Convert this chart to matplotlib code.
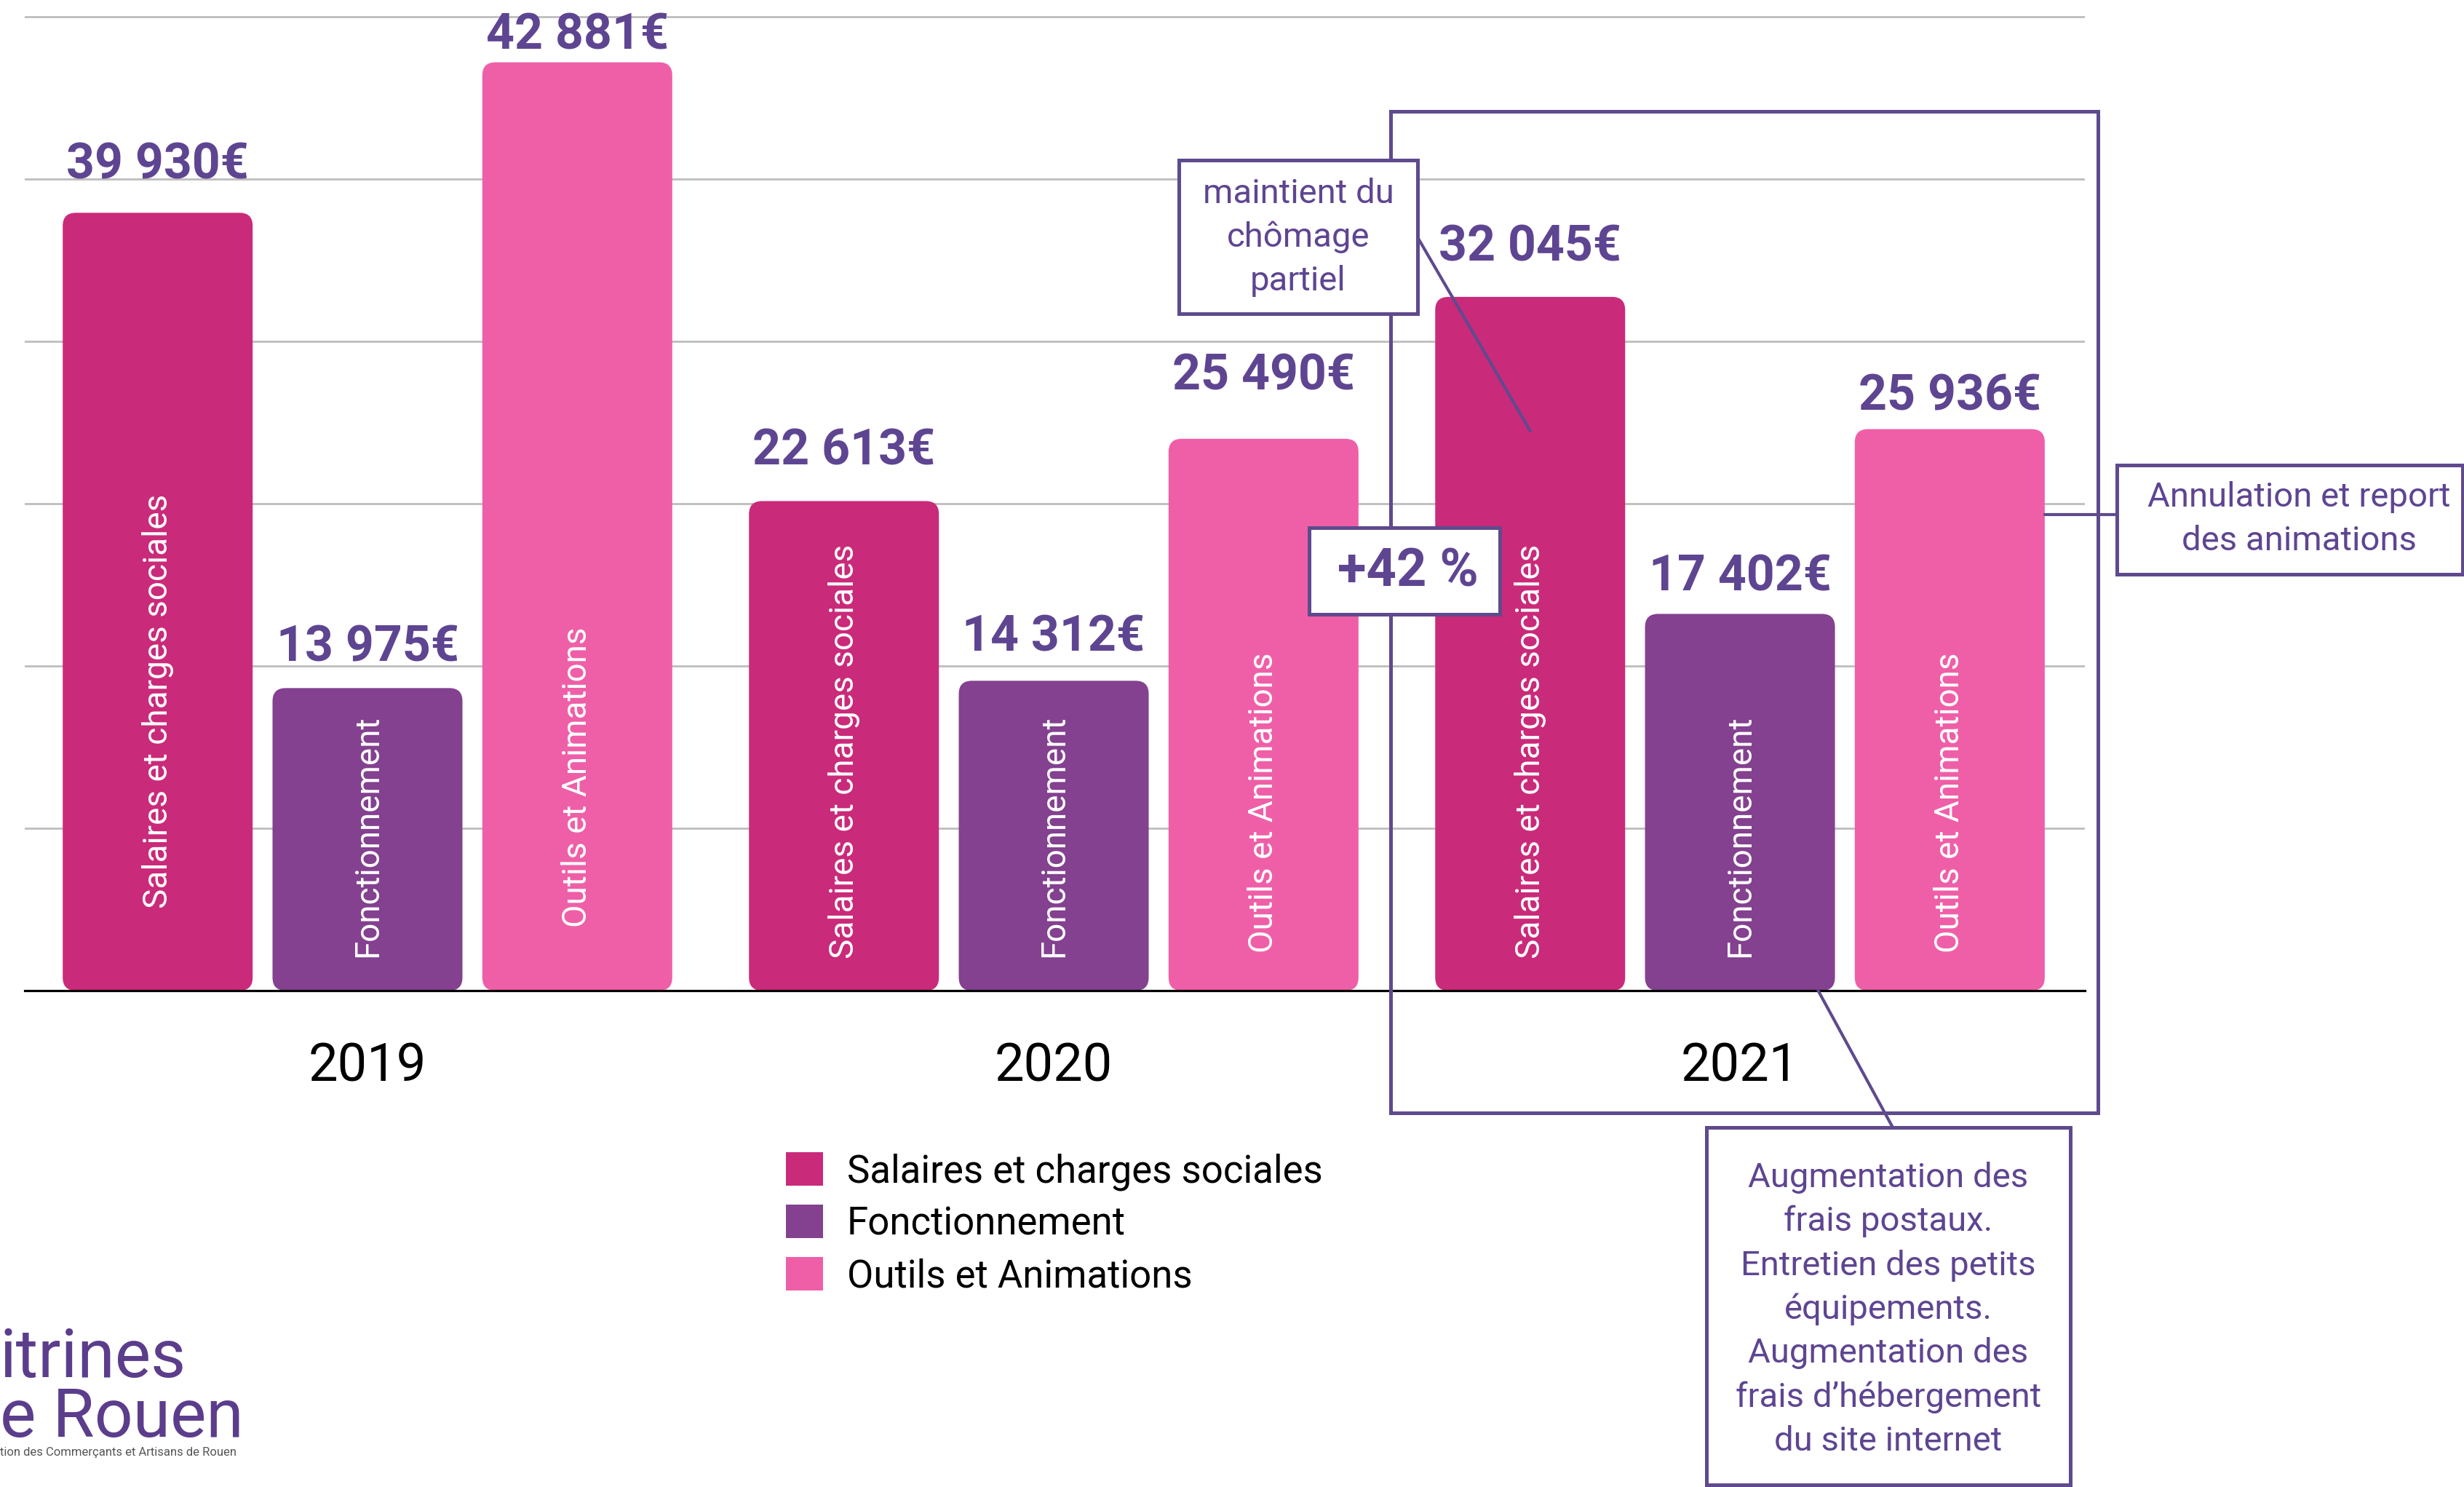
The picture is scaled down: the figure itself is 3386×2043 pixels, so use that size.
import matplotlib
matplotlib.use('Agg')
import matplotlib.pyplot as plt
from matplotlib.patches import FancyBboxPatch, Rectangle, Patch, ConnectionPatch

plt.rcParams['font.family'] = ['Roboto', 'DejaVu Sans']

# Données
annees = ['2019', '2020', '2021']
categories = ['Salaires et charges sociales', 'Fonctionnement', 'Outils et Animations']
salaires = [39930, 22613, 32045]
fonctionnement = [13975, 14312, 17402]
outils = [42881, 25490, 25936]
# la barre salaires 2019 est dessinee plus basse que son etiquette
salaires_barre = [35930, 22613, 32045]

couleurs = ['#CA2A7A', '#83418F', '#EF5FA7']
VIOLET = '#5E4591'
BORD = '#5F4A8D'
LOGO = '#5B3D8C'

W, H = 3386, 2043
PT = 72 / 100  # points par pixel (dpi 100)

# mise en page (pixels)
PAS = 288.3          # ecart entre deux barres d'un groupe
ECART = 3.271        # ecart entre groupes (en barres)
LARG = 261 / PAS
BASE = 1361
ECHELLE = 223.07 / 7500  # px par euro

# decalages manuels des etiquettes (px)
ecart_valeur = [[47, 50, 49], [37, 41, 32], [18, 67, 26]]
pied_texte = [[113, 44, 44], [46, 46, 46], [87, 52, 52]]

fig = plt.figure(figsize=(W / 100, H / 100), dpi=100)
ax = fig.add_axes([34 / W, (H - BASE) / H, (2865 - 34) / W, BASE / H])
ax.set_xlim((34 - 505) / PAS, (2865 - 505) / PAS)
ax.set_ylim(0, BASE / ECHELLE)
ax.set_yticks([7500, 15000, 22500, 30000, 37500, 45000])
ax.grid(axis='y', color='#BDBDBD', linewidth=2.0)
ax.set_axisbelow(True)
ax.tick_params(length=0, labelleft=False, labelbottom=False)
for s in ['top', 'left', 'right']:
    ax.spines[s].set_visible(False)
ax.spines['bottom'].set_color('black')
ax.spines['bottom'].set_linewidth(2.3)

rx = 18 / PAS
ry = 18 / ECHELLE
hauteurs = [salaires_barre, fonctionnement, outils]
montants = [salaires, fonctionnement, outils]
centres = {}
for i, (nom, coul) in enumerate(zip(categories, couleurs)):
    xs = [g * ECART + (i - 1) for g in range(len(annees))]
    bars = ax.bar(xs, hauteurs[i], width=LARG, color=coul)
    for g, r in enumerate(bars):
        r.set_visible(False)
        ax.add_patch(FancyBboxPatch((r.get_x(), r.get_y()), r.get_width(), r.get_height(),
                                    boxstyle=f"round,pad=0,rounding_size={rx}",
                                    mutation_aspect=ry / rx, fc=coul, ec='none', zorder=2))
        xc = r.get_x() + r.get_width() / 2
        centres[(i, g)] = xc
        texte = f"{montants[i][g]:,}".replace(',', ' ') + '€'
        ax.annotate(texte, (xc, r.get_height()), xytext=(0, ecart_valeur[i][g] * PT),
                    textcoords='offset points', ha='center', va='baseline',
                    fontsize=49, fontweight='bold', color=VIOLET, zorder=3)
        ax.annotate(nom, (xc, 0), xytext=(0, pied_texte[i][g] * PT),
                    textcoords='offset points', rotation=90, ha='center', va='bottom',
                    fontsize=33, color='white', zorder=3)

for g, an in enumerate(annees):
    ax.text(g * ECART, -125 / BASE, an, transform=ax.get_xaxis_transform(),
            ha='center', va='baseline', fontsize=52, color='black')

# legende
poignees = [Patch(facecolor=c, edgecolor='none') for c in couleurs]
fig.legend(poignees, categories, loc='center left', bbox_to_anchor=(1080 / W, 1 - 1681 / H),
           frameon=False, fontsize=38, handlelength=0.97, handleheight=0.97,
           handletextpad=0.62, labelspacing=0.37, borderpad=0, borderaxespad=0)

# calque des annotations en pixels
ov = fig.add_axes([0, 0, 1, 1])
ov.set_xlim(0, W)
ov.set_ylim(H, 0)
ov.axis('off')


def boite(x0, y0, x1, y1, fond='white', z=3):
    ov.add_patch(Rectangle((x0, y0), x1 - x0, y1 - y0, fc=fond, ec=BORD, lw=3.6, zorder=z))


def lien(xy_barre, xy_boite):
    ov.add_artist(ConnectionPatch(xyA=xy_barre, coordsA=ax.transData, xyB=xy_boite,
                                  coordsB=ov.transData, color=BORD, lw=3, zorder=2))


# cadre 2021
ov.add_patch(Rectangle((1911, 153), 2883 - 1911, 1529 - 153, fill=False, ec=BORD, lw=3.6, zorder=1))

boite(1620, 220, 1948, 431)
ov.text(1784, 326, "maintient du\nchômage\npartiel", ha='center', va='center',
        fontsize=34, color=VIOLET, linespacing=1.45, zorder=4)
lien((centres[(0, 2)], 25855), (1948, 326))

boite(1799, 725, 2061, 844)
ov.text(1935, 786, "+42 %", ha='center', va='center', fontsize=52,
        fontweight='bold', color=VIOLET, zorder=4)

x_out = centres[(2, 2)] + LARG / 2
lien((x_out, 21990), (2909, 707))
boite(2909, 639, 3384, 789)
ov.text(3159, 713, "Annulation et report\ndes animations", ha='center', va='center',
        fontsize=34, color=VIOLET, linespacing=1.45, zorder=4)

x_fon = centres[(1, 2)] + LARG / 2 - 0.08
lien((x_fon, 0), (2601, 1549))
boite(2345, 1549, 2845, 2040)
ov.text(2595, 1799, "Augmentation des\nfrais postaux.\nEntretien des petits\néquipements.\n"
        "Augmentation des\nfrais d’hébergement\ndu site internet",
        ha='center', va='center', fontsize=34, color=VIOLET, linespacing=1.46, zorder=4)

# logo
ov.text(0, 1892, "itrines", fontsize=67, color=LOGO, ha='left', va='baseline')
ov.text(0, 1974, "e Rouen", fontsize=67, color=LOGO, ha='left', va='baseline')
ov.text(0, 2000, "tion des Commerçants et Artisans de Rouen", fontsize=12,
        color='#555555', ha='left', va='baseline')

fig.savefig('out.png', dpi=100)
